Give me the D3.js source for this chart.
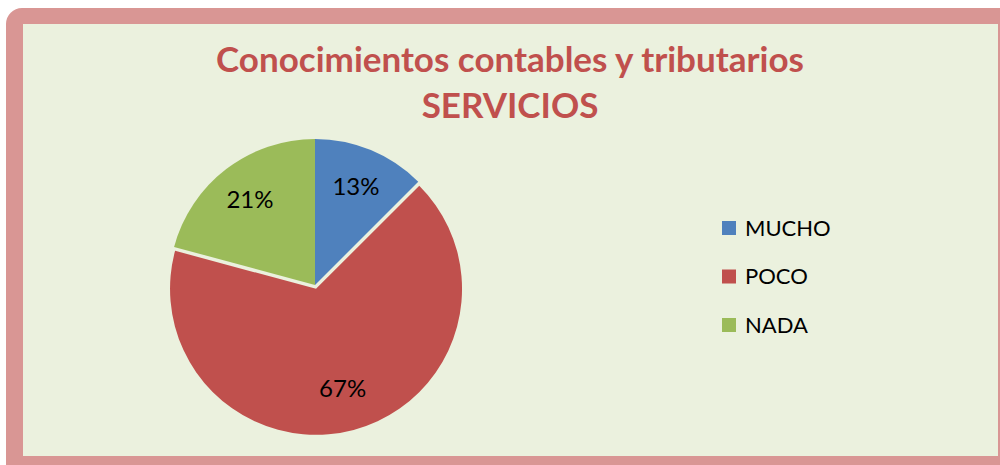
<!DOCTYPE html>
<html>
<head>
<meta charset="utf-8">
<script src="https://d3js.org/d3.v7.min.js"></script>
<style>
  body { margin: 0; background: #fff; }
  svg { display: block; }
</style>
</head>
<body>
<svg width="1000" height="465"></svg>
<script>
// chart data
var categories = ["MUCHO", "POCO", "NADA"];
var values = [12.5, 66.7, 20.8];          // percent of answers
var colors = ["#4F81BD", "#C0504D", "#9BBB59"];
var titleLines = ["Conocimientos contables y tributarios", "SERVICIOS"];

var svg = d3.select("svg");

// frame
svg.append("rect")
	.attr("x", 6).attr("y", 8)
	.attr("width", 1010).attr("height", 480)
	.attr("rx", 16)
	.style("fill", "#D99694");

svg.append("rect")
	.attr("x", 23).attr("y", 24)
	.attr("width", 975).attr("height", 432)
	.style("fill", "#EBF1DE");

// title
var title = svg.append("text")
	.attr("text-anchor", "middle")
	.style("font-family", "Lato, 'Open Sans', sans-serif")
	.style("font-weight", "bold")
	.style("font-size", "35px")
	.style("fill", "#C0504D");

title.selectAll("tspan")
	.data(titleLines)
	.enter()
	.append("tspan")
	.attr("x", 510)
	.attr("y", function(d, i) { return 72 + i * 46; })
	.text(function(d) { return d; });

// pie
var cx = 315, cy = 285, radius = 146;

var pie = d3.pie().sort(null).value(function(d) { return d; });
var arcs = pie(values);

var arc = d3.arc().innerRadius(0).outerRadius(radius);
var labelArc = d3.arc().innerRadius(107).outerRadius(107);

var g = svg.append("g").attr("transform", "translate(" + cx + "," + cy + ")");

function explode(d, i) {
	// only POCO is pulled out a little
	if (i != 1) return "";
	var a = (d.startAngle + d.endAngle) / 2;
	return "translate(" + (Math.sin(a) * 4) + "," + (-Math.cos(a) * 4) + ")";
}

g.selectAll("path")
	.data(arcs)
	.enter()
	.append("path")
	.attr("d", arc)
	.attr("transform", explode)
	.style("fill", function(d, i) { return colors[i]; });

g.selectAll("text")
	.data(arcs)
	.enter()
	.append("text")
	.attr("transform", function(d, i) {
		var c = labelArc.centroid(d);
		return "translate(" + c[0] + "," + c[1] + ")";
	})
	.attr("text-anchor", "middle")
	.attr("dy", "0.35em")
	.style("font-family", "Lato, 'Open Sans', sans-serif")
	.style("font-size", "24px")
	.style("fill", "#000")
	.text(function(d) { return Math.round(d.value) + "%"; });

// legend
var legend = svg.append("g")
	.selectAll("g")
	.data(categories)
	.enter()
	.append("g")
	.attr("transform", function(d, i) { return "translate(722," + (228 + i * 48.5) + ")"; });

legend.append("rect")
	.attr("x", 0).attr("y", -7)
	.attr("width", 14).attr("height", 14)
	.style("fill", function(d, i) { return colors[i]; });

legend.append("text")
	.attr("x", 23)
	.attr("dy", "0.35em")
	.style("font-family", "Lato, 'Open Sans', sans-serif")
	.style("font-size", "22px")
	.style("fill", "#000")
	.text(function(d) { return d; });
</script>
</body>
</html>
